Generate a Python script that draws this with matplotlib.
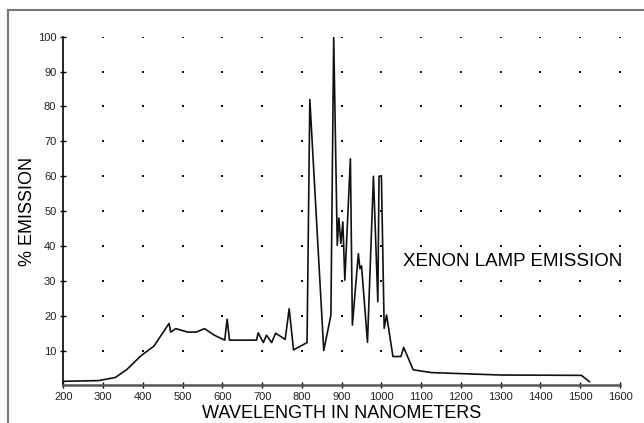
import matplotlib
matplotlib.use("Agg")
import matplotlib.pyplot as plt
from matplotlib.lines import Line2D
import numpy as np

plt.rcParams["font.family"] = ["Liberation Sans", "DejaVu Sans"]

wavelength = [200, 289, 331, 361, 395, 428, 466, 470, 483, 513, 534, 555,
              580, 606, 612, 618, 686, 690, 703, 711, 724, 734, 758, 768,
              779, 813, 820, 855, 873, 880, 889, 893, 898, 903, 908, 922,
              927, 942, 946, 950, 965, 980, 991, 994, 1000, 1007, 1013,
              1029, 1049, 1056, 1080, 1125, 1300, 1503, 1523]
emission = [1.2, 1.4, 2.3, 4.7, 8.5, 11.3, 17.8, 15.3, 16.3, 15.3, 15.3, 16.3,
            14.4, 13, 19, 13, 13, 15.1, 12.3, 14.4, 12.3, 15, 13.2, 22,
            10.2, 12.3, 82, 10, 20.2, 100, 40.2, 48, 40.7, 46.9, 30.2, 65,
            17.3, 37.8, 33.5, 34.3, 12.4, 60, 24, 60, 60, 16.4, 20.2,
            8.3, 8.3, 10.9, 4.5, 3.7, 3.0, 2.9, 1.1]

x_ticks = list(range(200, 1700, 100))
y_ticks = list(range(10, 110, 10))

fig = plt.figure(figsize=(6.44, 4.23), dpi=100)
ax = fig.add_axes([0.0983, 0.0887, 0.8644, 0.8245])

# dotted grid: one dot per tick crossing
gx, gy = np.meshgrid(x_ticks[1:], y_ticks)
ax.scatter(gx.ravel(), gy.ravel(), s=2.5, marker="s", color="#111111",
           linewidths=0, zorder=1)

ax.plot(wavelength, emission, color="#111111", linewidth=1.2, zorder=3)

ax.set_xlim(200, 1600)
ax.set_ylim(0, 100)
ax.set_xticks(x_ticks)
ax.set_yticks(y_ticks)
ax.tick_params(direction="inout", length=4, width=1, labelsize=8,
               labelcolor="#222222", pad=3)

for side in ("top", "right"):
    ax.spines[side].set_visible(False)
ax.spines["left"].set_linewidth(1.2)
ax.spines["bottom"].set_linewidth(1.8)
ax.spines["bottom"].set_color("#555555")

ax.set_xlabel("WAVELENGTH IN NANOMETERS", fontsize=13, labelpad=2)
ax.set_ylabel("% EMISSION", fontsize=13, labelpad=1)

ax.text(1606, 35.6, "XENON LAMP EMISSION", fontsize=13.5, ha="right",
        va="center")

# outer frame (only top and left edges show)
fig.add_artist(Line2D([0.0124, 1.0], [0.976, 0.976], color="#777777",
                      linewidth=1.5, transform=fig.transFigure))
fig.add_artist(Line2D([0.0124, 0.0124], [0.0, 0.976], color="#777777",
                      linewidth=1.5, transform=fig.transFigure))

fig.savefig("out.png", dpi=100)
